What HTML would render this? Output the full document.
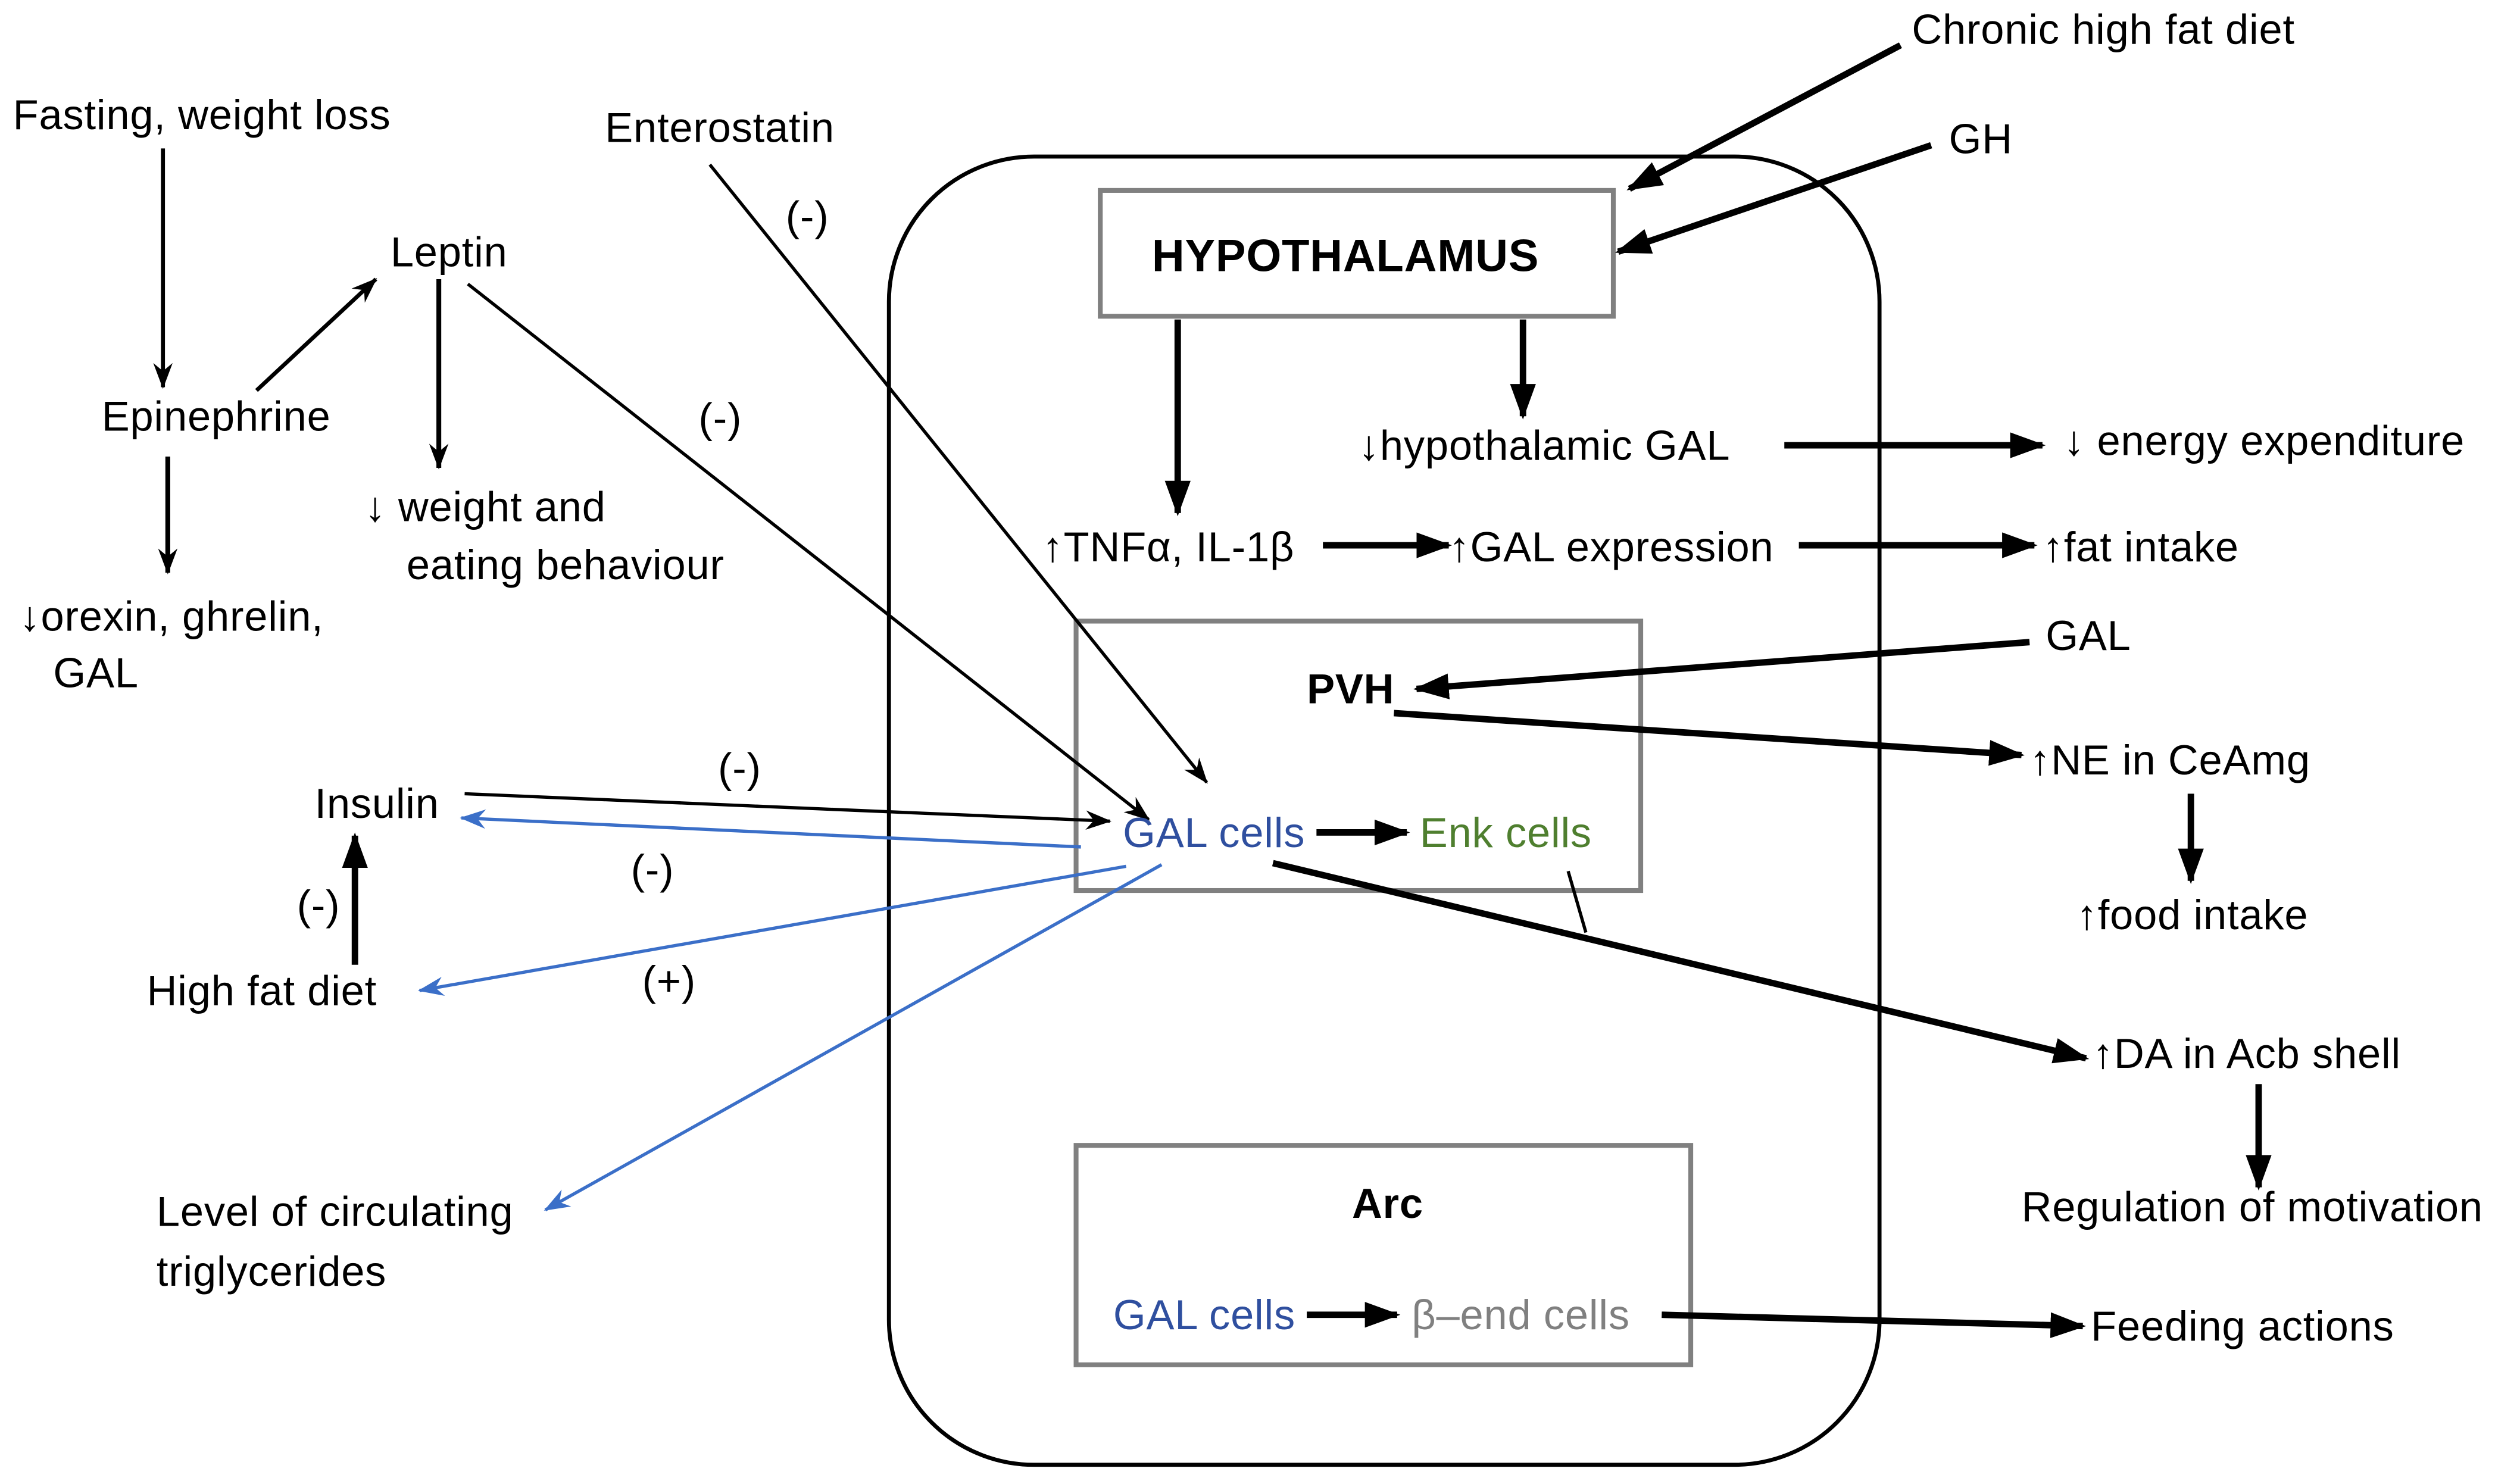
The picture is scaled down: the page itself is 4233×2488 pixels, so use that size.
<!DOCTYPE html>
<html><head><meta charset="utf-8"><style>html,body{margin:0;padding:0;background:#fff}svg{display:block}</style></head>
<body>
<svg width="4233" height="2488" viewBox="0 0 1562 918" xmlns="http://www.w3.org/2000/svg" font-family="'Liberation Sans', 'DejaVu Sans', sans-serif" font-size="26" letter-spacing="0.3">
<defs>
<marker id="ak" markerUnits="userSpaceOnUse" markerWidth="22" markerHeight="18" refX="20" refY="9" orient="auto"><path d="M0,1 L22,9 L0,17 Z" fill="#000"/></marker>
<marker id="at" markerUnits="userSpaceOnUse" markerWidth="16" markerHeight="14" refX="15" refY="7" orient="auto"><path d="M0,1 L16,7 L0,13 L5,7 Z" fill="#000"/></marker>
<marker id="ab" markerUnits="userSpaceOnUse" markerWidth="16" markerHeight="14" refX="15" refY="7" orient="auto"><path d="M0,1 L16,7 L0,13 L5,7 Z" fill="#3B6FC8"/></marker>
</defs>
<rect width="1562" height="918" fill="#fff"/>
<rect x="551" y="97" width="614" height="811" rx="90" fill="none" stroke="#000" stroke-width="2.5"/>
<rect x="682" y="118" width="318" height="78" fill="none" stroke="#808080" stroke-width="3"/>
<rect x="667" y="385" width="350" height="167" fill="none" stroke="#808080" stroke-width="3"/>
<rect x="667" y="710" width="381" height="136" fill="none" stroke="#808080" stroke-width="3"/>

<g stroke="#000" fill="none">
<line x1="101" y1="92" x2="101" y2="240" stroke-width="2.5" marker-end="url(#at)"/>
<line x1="159" y1="242" x2="233" y2="173" stroke-width="2.5" marker-end="url(#at)"/>
<line x1="272" y1="173" x2="272" y2="290" stroke-width="3" marker-end="url(#at)"/>
<line x1="104" y1="283" x2="104" y2="355" stroke-width="3" marker-end="url(#at)"/>
<line x1="290" y1="176" x2="712" y2="508" stroke-width="2" marker-end="url(#at)"/>
<line x1="440" y1="102" x2="748" y2="485" stroke-width="2" marker-end="url(#at)"/>
<line x1="288" y1="492" x2="688" y2="509" stroke-width="2" marker-end="url(#at)"/>
<line x1="1178" y1="28" x2="1010" y2="117" stroke-width="4" marker-end="url(#ak)"/>
<line x1="1197" y1="90" x2="1003" y2="156" stroke-width="4" marker-end="url(#ak)"/>
<line x1="730" y1="198" x2="730" y2="318" stroke-width="4" marker-end="url(#ak)"/>
<line x1="944" y1="198" x2="944" y2="258" stroke-width="4" marker-end="url(#ak)"/>
<line x1="1106" y1="276" x2="1266" y2="276" stroke-width="4" marker-end="url(#ak)"/>
<line x1="820" y1="338" x2="898" y2="338" stroke-width="4" marker-end="url(#ak)"/>
<line x1="1115" y1="338" x2="1261" y2="338" stroke-width="4" marker-end="url(#ak)"/>
<line x1="1258" y1="398" x2="878" y2="427" stroke-width="4" marker-end="url(#ak)"/>
<line x1="864" y1="442" x2="1253" y2="468" stroke-width="4" marker-end="url(#ak)"/>
<line x1="1358" y1="492" x2="1358" y2="546" stroke-width="4" marker-end="url(#ak)"/>
<line x1="220" y1="598" x2="220" y2="518" stroke-width="4" marker-end="url(#ak)"/>
<line x1="816" y1="516" x2="872" y2="516" stroke-width="4" marker-end="url(#ak)"/>
<line x1="789" y1="535" x2="1293" y2="656" stroke-width="4" marker-end="url(#ak)"/>
<line x1="972" y1="540" x2="983" y2="578" stroke-width="2"/>
<line x1="1400" y1="672" x2="1400" y2="736" stroke-width="4" marker-end="url(#ak)"/>
<line x1="810" y1="815" x2="866" y2="815" stroke-width="4" marker-end="url(#ak)"/>
<line x1="1030" y1="815" x2="1291" y2="822" stroke-width="4" marker-end="url(#ak)"/>
</g>
<g stroke="#3B6FC8" stroke-width="2" fill="none">
<line x1="670" y1="525" x2="286" y2="507" marker-end="url(#ab)"/>
<line x1="698" y1="537" x2="260" y2="614" marker-end="url(#ab)"/>
<line x1="720" y1="536" x2="338" y2="750" marker-end="url(#ab)"/>
</g>

<g fill="#000">
<text x="8" y="80">Fasting, weight loss</text>
<text x="375" y="88">Enterostatin</text>
<text x="1185" y="27">Chronic high fat diet</text>
<text x="1208" y="95">GH</text>
<text x="714" y="168" font-weight="bold" font-size="28">HYPOTHALAMUS</text>
<text x="242" y="165">Leptin</text>
<text x="63" y="267">Epinephrine</text>
<text x="487" y="143">(-)</text>
<text x="433" y="268">(-)</text>
<text x="226" y="323">↓ weight and</text>
<text x="252" y="359">eating behaviour</text>
<text x="12" y="391">↓orexin, ghrelin,</text>
<text x="33" y="426">GAL</text>
<text x="842" y="285">↓hypothalamic GAL</text>
<text x="1279" y="282">↓ energy expenditure</text>
<text x="646" y="348">↑TNFα, IL-1β</text>
<text x="898" y="348">↑GAL expression</text>
<text x="1266" y="348">↑fat intake</text>
<text x="1268" y="403">GAL</text>
<text x="810" y="436" font-weight="bold">PVH</text>
<text x="1258" y="480">↑NE in CeAmg</text>
<text x="1287" y="576">↑food intake</text>
<text x="195" y="507">Insulin</text>
<text x="445" y="485">(-)</text>
<text x="391" y="548">(-)</text>
<text x="184" y="570">(-)</text>
<text x="91" y="623">High fat diet</text>
<text x="398" y="617">(+)</text>
<text x="1297" y="662">↑DA in Acb shell</text>
<text x="838" y="755" font-weight="bold">Arc</text>
<text x="1253" y="757">Regulation of motivation</text>
<text x="97" y="760">Level of circulating</text>
<text x="97" y="797">triglycerides</text>
<text x="1296" y="831">Feeding actions</text>
</g>
<text x="696" y="525" fill="#2F4F9F">GAL cells</text>
<text x="880" y="525" fill="#4F7F2F">Enk cells</text>
<text x="690" y="824" fill="#2F4F9F">GAL cells</text>
<text x="875" y="824" fill="#808080">β–end cells</text>
</svg>
</body></html>
